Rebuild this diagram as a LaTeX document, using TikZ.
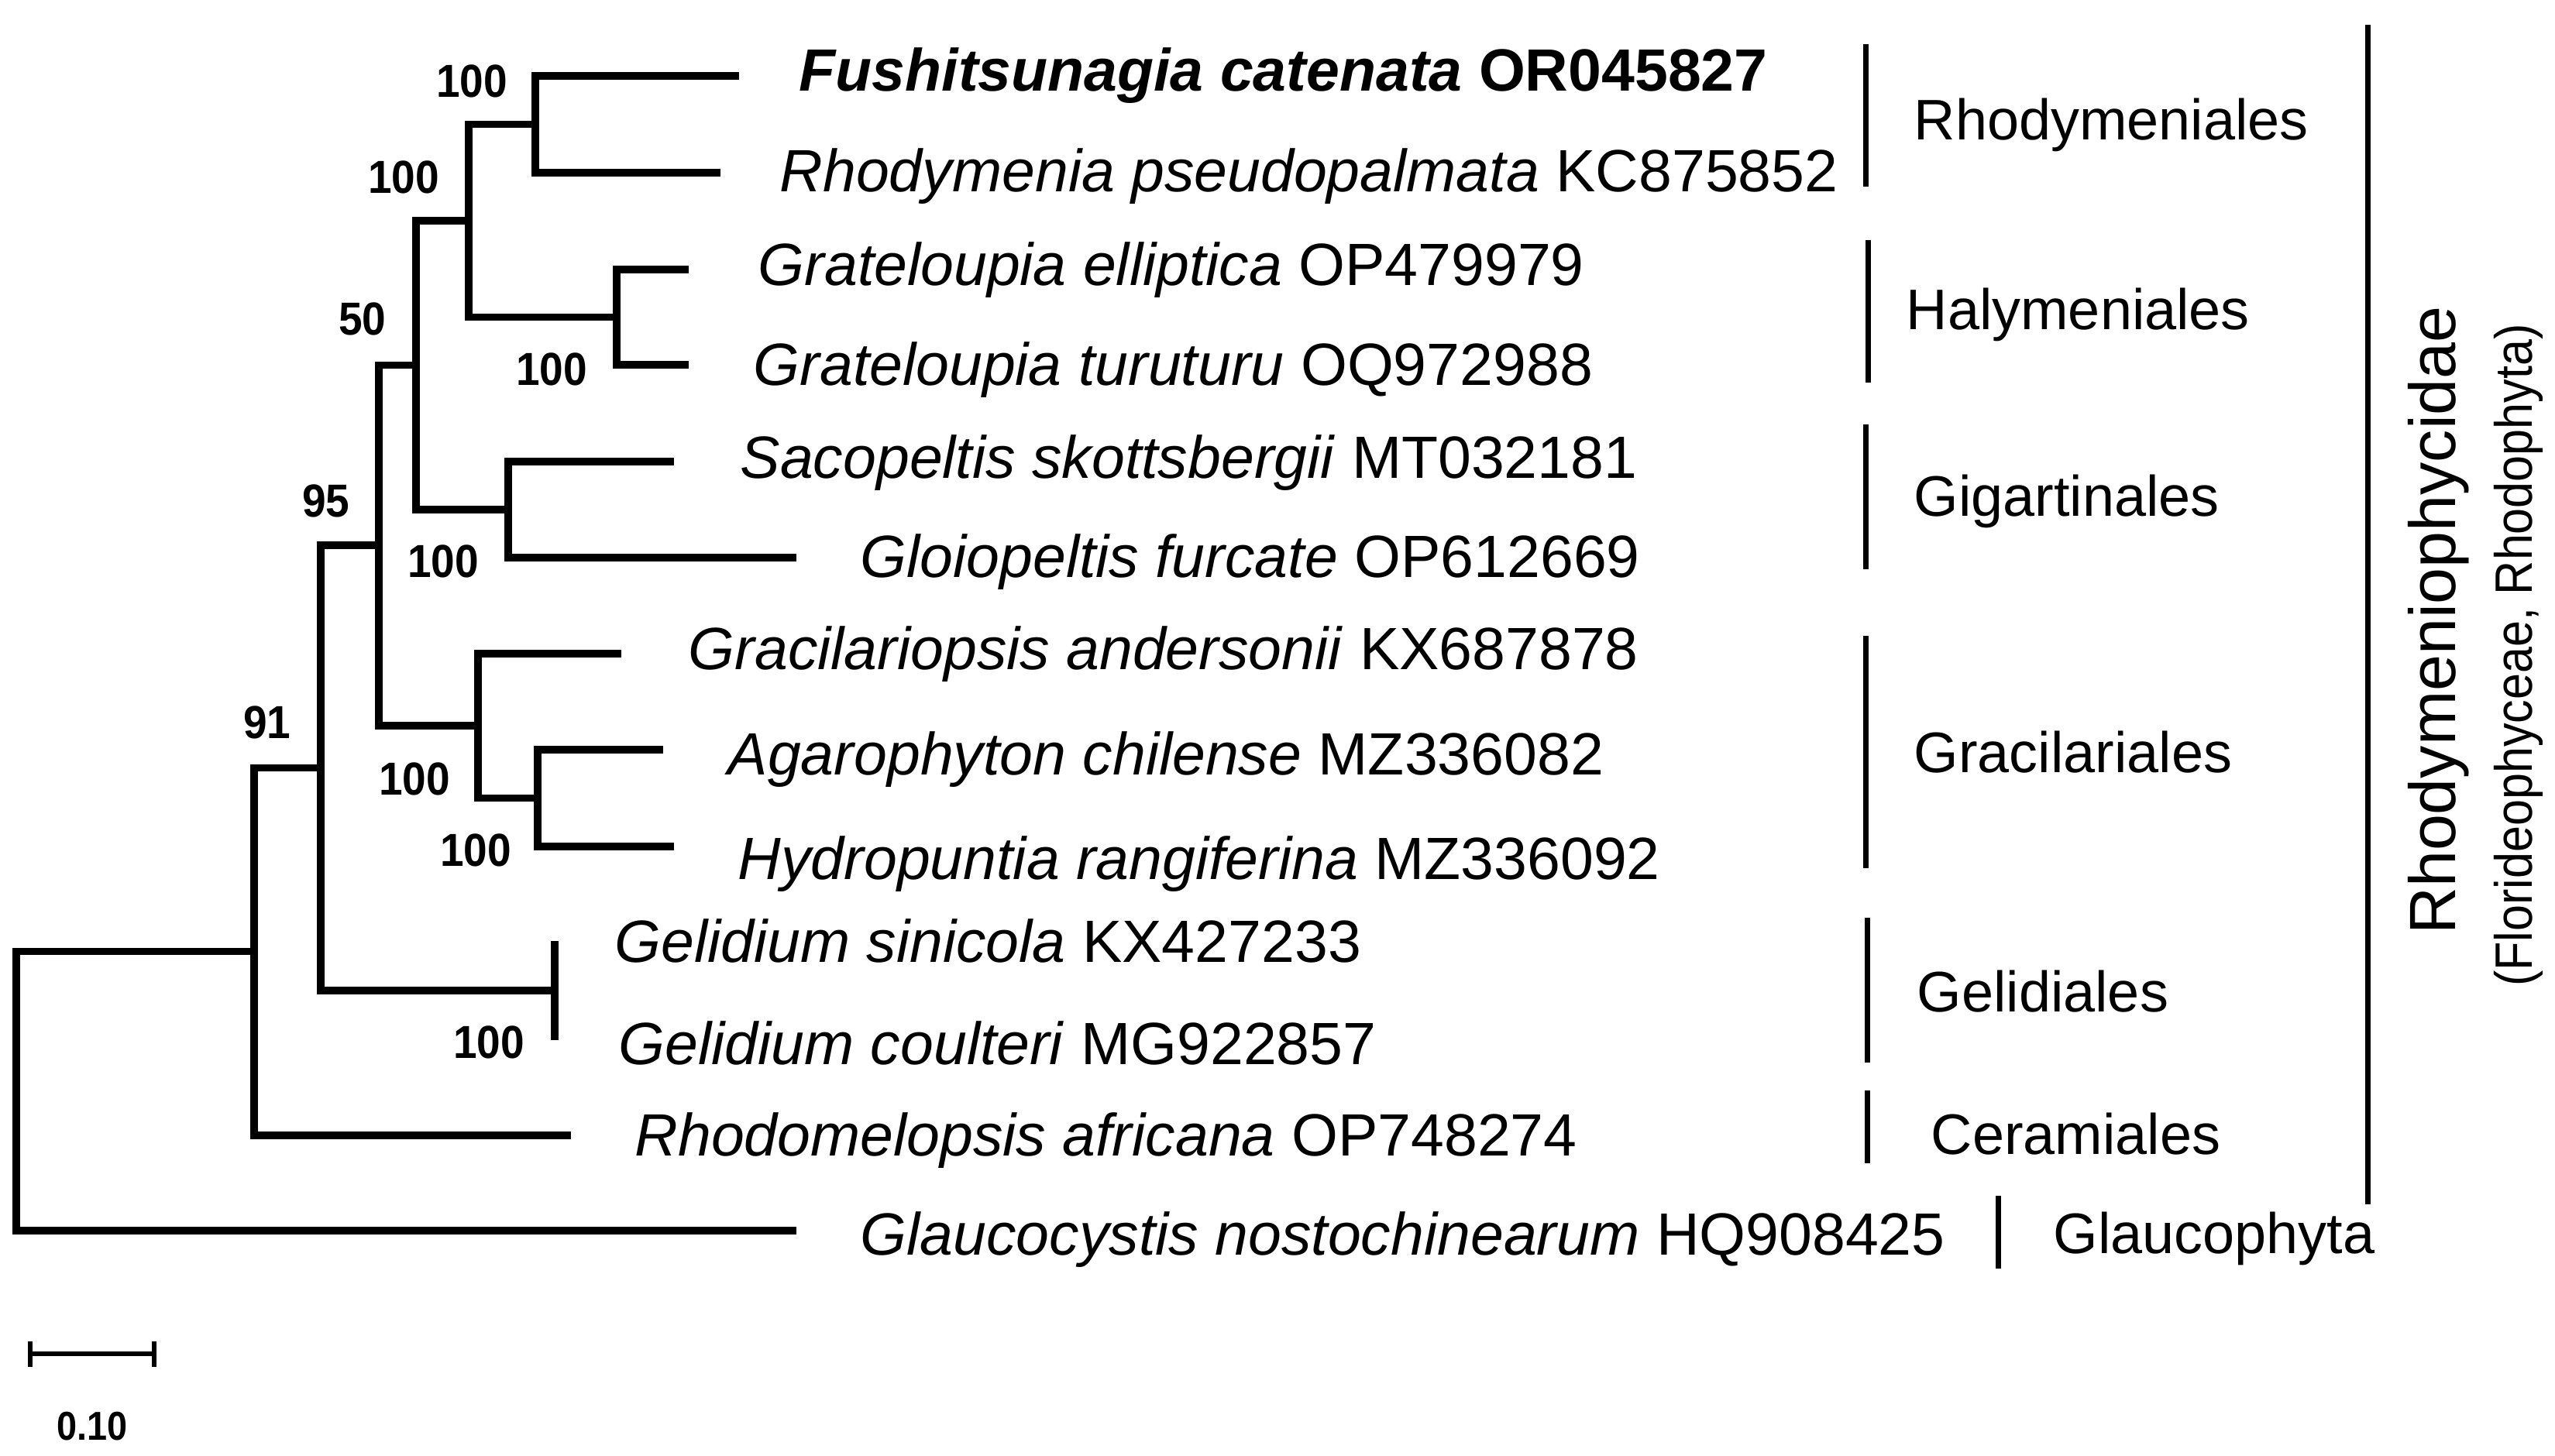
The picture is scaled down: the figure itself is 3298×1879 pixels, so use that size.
\documentclass[tikz,border=0pt]{standalone}
\usepackage{fontspec}
\setmainfont{Liberation Sans}
\begin{document}
\begin{tikzpicture}[x=0.01cm,y=-0.01cm,
  branch/.style={line width=2.6pt},
  cladebar/.style={line width=2.0pt},
  sp/.style={anchor=base west,inner sep=0pt,font=\fontsize{21.9pt}{26pt}\selectfont},
  ord/.style={anchor=base west,inner sep=0pt,font=\fontsize{21pt}{25pt}\selectfont},
  bs/.style={inner sep=0pt,font=\fontsize{17pt}{20pt}\selectfont\bfseries,xscale=0.92}]
\useasboundingbox (0,0) rectangle (3298,1879);
% tips
\coordinate (t1) at (954,98);
\coordinate (t2) at (930,223);
\coordinate (t3) at (889,348);
\coordinate (t4) at (889,471);
\coordinate (t5) at (870,596);
\coordinate (t6) at (1028,720);
\coordinate (t7) at (802,844);
\coordinate (t8) at (856,968);
\coordinate (t9) at (870,1093);
\coordinate (t10) at (716,1215);
\coordinate (t11) at (716,1343);
\coordinate (t12) at (737,1466);
\coordinate (t13) at (1028,1589);
% internal nodes
\coordinate (nA) at (691,160.5);
\coordinate (nGr) at (796,409.5);
\coordinate (nB) at (605,285);
\coordinate (nSa) at (656,658);
\coordinate (nC) at (537,471.5);
\coordinate (nF) at (694,1030.5);
\coordinate (nE) at (617,937);
\coordinate (nD) at (489,704);
\coordinate (nGe) at (716,1279);
\coordinate (nG) at (414,991.5);
\coordinate (nH) at (328,1228.75);
\coordinate (root) at (21,1408.9);
% branches
\draw[branch] (nA) |- (t1);
\draw[branch] (nA) |- (t2);
\draw[branch] (nGr) |- (t3);
\draw[branch] (nGr) |- (t4);
\draw[branch] (nB) |- (nA);
\draw[branch] (nB) |- (nGr);
\draw[branch] (nSa) |- (t5);
\draw[branch] (nSa) |- (t6);
\draw[branch] (nC) |- (nB);
\draw[branch] (nC) |- (nSa);
\draw[branch] (nF) |- (t8);
\draw[branch] (nF) |- (t9);
\draw[branch] (nE) |- (t7);
\draw[branch] (nE) |- (nF);
\draw[branch] (nD) |- (nC);
\draw[branch] (nD) |- (nE);
\draw[branch] (nGe) -- (t10);
\draw[branch] (nGe) -- (t11);
\draw[branch] (nG) |- (nD);
\draw[branch] (nG) |- (nGe);
\draw[branch] (nH) |- (nG);
\draw[branch] (nH) |- (t12);
\draw[branch] (root) |- (nH);
\draw[branch] (root) |- (t13);
% bootstrap values
\node[bs] (b1) at (609,105) {100};
\node[bs] (b2) at (521,229) {100};
\node[bs] (b3) at (468,412) {50};
\node[bs] (b4) at (712,477) {100};
\node[bs] (b5) at (421,647) {95};
\node[bs] (b6) at (572,725) {100};
\node[bs] (b7) at (345,933) {91};
\node[bs] (b8) at (535,1006) {100};
\node[bs] (b9) at (614,1098) {100};
\node[bs] (b10) at (631,1346) {100};
% leaf labels
\node[sp] (l1) at (1031,117) {\textbf{\textit{Fushitsunagia catenata} OR045827}};
\node[sp] (l2) at (1006,248) {\textit{Rhodymenia pseudopalmata} KC875852};
\node[sp] (l3) at (978,368) {\textit{Grateloupia elliptica} OP479979};
\node[sp] (l4) at (972,497) {\textit{Grateloupia turuturu} OQ972988};
\node[sp] (l5) at (955,617) {\textit{Sacopeltis skottsbergii} MT032181};
\node[sp] (l6) at (1110,745) {\textit{Gloiopeltis furcate} OP612669};
\node[sp] (l7) at (888,864) {\textit{Gracilariopsis andersonii} KX687878};
\node[sp] (l8) at (939,1000) {\textit{Agarophyton chilense} MZ336082};
\node[sp] (l9) at (952,1135) {\textit{Hydropuntia rangiferina} MZ336092};
\node[sp] (l10) at (793,1242) {\textit{Gelidium sinicola} KX427233};
\node[sp] (l11) at (798,1374) {\textit{Gelidium coulteri} MG922857};
\node[sp] (l12) at (819,1492) {\textit{Rhodomelopsis africana} OP748274};
\node[sp] (l13) at (1110,1620) {\textit{Glaucocystis nostochinearum} HQ908425};
% order bars
\coordinate (o1a) at (2408,57);   \coordinate (o1b) at (2408,241);
\coordinate (o2a) at (2411,310);  \coordinate (o2b) at (2411,494);
\coordinate (o3a) at (2408,548);  \coordinate (o3b) at (2408,735);
\coordinate (o4a) at (2408,821);  \coordinate (o4b) at (2408,1121);
\coordinate (o5a) at (2410,1185); \coordinate (o5b) at (2410,1372);
\coordinate (o6a) at (2410,1408); \coordinate (o6b) at (2410,1502);
\coordinate (o7a) at (2579,1544); \coordinate (o7b) at (2579,1638);
\coordinate (bga) at (3056,32);   \coordinate (bgb) at (3056,1555);
\draw[cladebar] (o1a) -- (o1b);
\draw[cladebar] (o2a) -- (o2b);
\draw[cladebar] (o3a) -- (o3b);
\draw[cladebar] (o4a) -- (o4b);
\draw[cladebar] (o5a) -- (o5b);
\draw[cladebar] (o6a) -- (o6b);
\draw[cladebar] (o7a) -- (o7b);
\draw[cladebar] (bga) -- (bgb);
% order labels
\node[ord] (r1) at (2470,181) {Rhodymeniales};
\node[ord] (r2) at (2460,425) {Halymeniales};
\node[ord] (r3) at (2470,666) {Gigartinales};
\node[ord] (r4) at (2470,997) {Gracilariales};
\node[ord] (r5) at (2474,1306) {Gelidiales};
\node[ord] (r6) at (2492,1490) {Ceramiales};
\node[ord] (r7) at (2650,1618) {Glaucophyta};
% subclass labels
\node[rotate=90,anchor=base,inner sep=0pt,font=\fontsize{24pt}{28pt}\selectfont] (sub) at (3169,801) {Rhodymeniophycidae};
\node[rotate=90,anchor=base,inner sep=0pt,font=\fontsize{19.3pt}{23pt}\selectfont] (subp) at (3268,846) {\scalebox{0.9}[1]{(Florideophyceae, Rhodophyta)}};
% scale bar
\coordinate (s1) at (39,1748);
\coordinate (s2) at (199,1748);
\coordinate (s1t) at (39,1732);
\coordinate (s1b) at (39,1765);
\coordinate (s2t) at (199,1732);
\coordinate (s2b) at (199,1765);
\draw[line width=1.5pt] (s1) -- (s2);
\draw[line width=1.6pt] (s1t) -- (s1b);
\draw[line width=1.6pt] (s2t) -- (s2b);
\node[inner sep=0pt,font=\fontsize{14.8pt}{18pt}\selectfont\bfseries,xscale=0.9] (sl) at (119,1842) {0.10};
\end{tikzpicture}
\end{document}
